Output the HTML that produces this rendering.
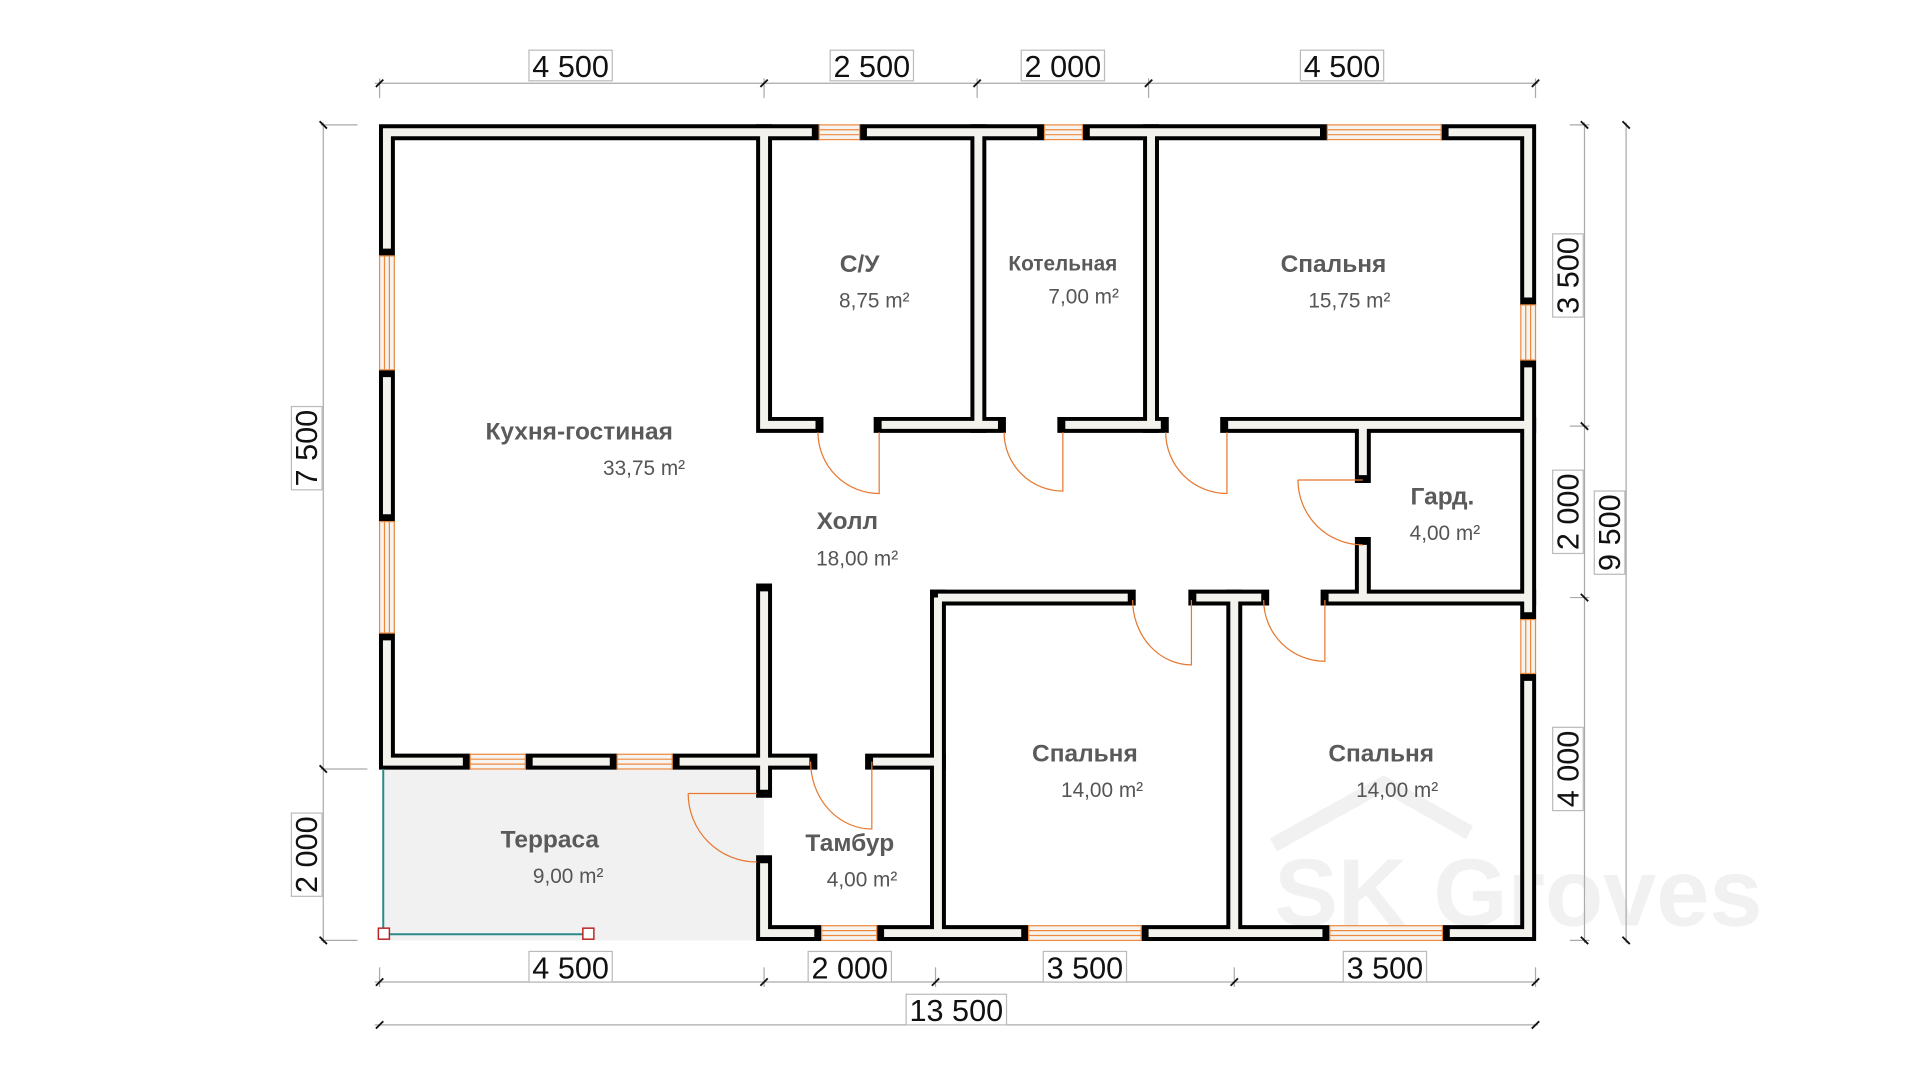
<!DOCTYPE html>
<html><head><meta charset="utf-8"><style>
html,body{margin:0;padding:0;background:#fff;}
svg{display:block}
.n{font-family:"Liberation Sans",sans-serif;font-weight:bold;fill:#5a5a5a;font-size:20px;text-anchor:middle}
.a{font-family:"Liberation Sans Narrow","Liberation Sans",sans-serif;fill:#555;font-size:17px;text-anchor:middle}
.d{font-family:"Liberation Sans Narrow","Liberation Sans",sans-serif;fill:#111;font-size:25px;text-anchor:middle}
</style></head><body>
<svg width="1920" height="1080" viewBox="0 0 1568 882" xmlns="http://www.w3.org/2000/svg">
<rect x="0" y="0" width="1568" height="882" fill="#fff"/>
<!-- terrace -->
<rect x="312" y="628" width="312" height="140" fill="#f1f1f1"/>
<!-- watermark -->
<text x="1240" y="756" font-family="Liberation Sans" font-weight="bold" font-size="78" fill="#f1f1f1" text-anchor="middle">SK Groves</text>
<path d="M1040,690 L1130,640 L1200,680" fill="none" stroke="#f1f1f1" stroke-width="12"/>

<!-- dimension lines -->
<g stroke="#aaa" stroke-width="1" fill="none">
<line x1="306" y1="68" x2="1256" y2="68"/>
<line x1="310" y1="64" x2="310" y2="80"/><line x1="624" y1="64" x2="624" y2="80"/><line x1="798" y1="64" x2="798" y2="80"/><line x1="938" y1="64" x2="938" y2="80"/><line x1="1254" y1="64" x2="1254" y2="80"/>
<line x1="306" y1="802" x2="1256" y2="802"/>
<line x1="310" y1="790" x2="310" y2="806"/><line x1="624" y1="790" x2="624" y2="806"/><line x1="764" y1="790" x2="764" y2="806"/><line x1="1008" y1="790" x2="1008" y2="806"/><line x1="1254" y1="790" x2="1254" y2="806"/>
<line x1="306" y1="837" x2="1256" y2="837"/>
<line x1="264" y1="100" x2="264" y2="770"/>
<line x1="262" y1="102" x2="292" y2="102"/><line x1="262" y1="628" x2="300" y2="628"/><line x1="262" y1="768" x2="292" y2="768"/>
<line x1="1294" y1="100" x2="1294" y2="770"/>
<line x1="1282" y1="102" x2="1298" y2="102"/><line x1="1282" y1="348" x2="1298" y2="348"/><line x1="1282" y1="488" x2="1298" y2="488"/><line x1="1282" y1="768" x2="1298" y2="768"/>
<line x1="1328" y1="100" x2="1328" y2="770"/>
</g>
<g stroke="#111" stroke-width="1.5">
<line x1="307" y1="71" x2="313" y2="65"/><line x1="621" y1="71" x2="627" y2="65"/><line x1="795" y1="71" x2="801" y2="65"/><line x1="935" y1="71" x2="941" y2="65"/><line x1="1251" y1="71" x2="1257" y2="65"/>
<line x1="307" y1="805" x2="313" y2="799"/><line x1="621" y1="805" x2="627" y2="799"/><line x1="761" y1="805" x2="767" y2="799"/><line x1="1005" y1="805" x2="1011" y2="799"/><line x1="1251" y1="805" x2="1257" y2="799"/>
<line x1="1251" y1="840" x2="1257" y2="834"/><line x1="307" y1="840" x2="313" y2="834"/>
<line x1="261" y1="99" x2="267" y2="105"/><line x1="261" y1="625" x2="267" y2="631"/><line x1="261" y1="765" x2="267" y2="771"/>
<line x1="1291" y1="99" x2="1297" y2="105"/><line x1="1291" y1="345" x2="1297" y2="351"/><line x1="1291" y1="485" x2="1297" y2="491"/><line x1="1291" y1="765" x2="1297" y2="771"/>
<line x1="1325" y1="99" x2="1331" y2="105"/><line x1="1325" y1="765" x2="1331" y2="771"/>
</g>
<g fill="#fff" stroke="#bbb" stroke-width="1">
<rect x="432" y="41" width="68" height="25"/><rect x="678" y="41" width="68" height="25"/><rect x="834" y="41" width="68" height="25"/><rect x="1062" y="41" width="68" height="25"/>
<rect x="432" y="777" width="68" height="25"/><rect x="660" y="777" width="68" height="25"/><rect x="852" y="777" width="68" height="25"/><rect x="1097" y="777" width="68" height="25"/>
<rect x="740" y="812" width="82" height="25"/>
<rect x="238" y="332" width="25" height="68"/><rect x="238" y="664" width="25" height="68"/>
<rect x="1268" y="191" width="25" height="68"/><rect x="1268" y="384" width="25" height="68"/><rect x="1268" y="594" width="25" height="68"/><rect x="1302" y="401" width="25" height="68"/>
</g>
<text class="d" x="466" y="63">4 500</text><text class="d" x="712" y="63">2 500</text><text class="d" x="868" y="63">2 000</text><text class="d" x="1096" y="63">4 500</text>
<text class="d" x="466" y="799">4 500</text><text class="d" x="694" y="799">2 000</text><text class="d" x="886" y="799">3 500</text><text class="d" x="1131" y="799">3 500</text>
<text class="d" x="781" y="834">13 500</text>
<text class="d" transform="translate(259,366) rotate(-90)">7 500</text>
<text class="d" transform="translate(259,698) rotate(-90)">2 000</text>
<text class="d" transform="translate(1289,225) rotate(-90)">3 500</text>
<text class="d" transform="translate(1289,418) rotate(-90)">2 000</text>
<text class="d" transform="translate(1289,628) rotate(-90)">4 000</text>
<text class="d" transform="translate(1323,435) rotate(-90)">9 500</text>

<!-- walls -->
<g id="w" fill="none" stroke-linejoin="miter">
<g stroke="#000" stroke-width="13" stroke-linecap="square">
<polyline points="316,203 316,108 663,108"/><line x1="708" y1="108" x2="847" y2="108"/><line x1="890" y1="108" x2="1078" y2="108"/>
<polyline points="1183,108 1248,108 1248,243"/><line x1="1248" y1="300" x2="1248" y2="500"/><polyline points="1248,556 1248,762 1184,762"/>
<line x1="1080" y1="762" x2="938" y2="762"/><line x1="834" y1="762" x2="722" y2="762"/><polyline points="665,762 624,762 624,705"/>
<line x1="624" y1="483" x2="624" y2="645"/><line x1="316" y1="308" x2="316" y2="420"/><polyline points="316,523 316,622 378,622"/>
<line x1="435" y1="622" x2="498" y2="622"/><line x1="555" y1="622" x2="661" y2="622"/><line x1="713" y1="622" x2="766" y2="622"/>
<line x1="766" y1="488" x2="766" y2="762"/><line x1="766" y1="488" x2="921" y2="488"/><line x1="977" y1="488" x2="1030" y2="488"/>
<line x1="1008" y1="488" x2="1008" y2="762"/><line x1="1085" y1="488" x2="1248" y2="488"/><line x1="1113" y1="445" x2="1113" y2="488"/>
<line x1="1113" y1="347" x2="1113" y2="388"/><line x1="1003" y1="347" x2="1248" y2="347"/><line x1="870" y1="347" x2="948" y2="347"/>
<line x1="940" y1="108" x2="940" y2="347"/><line x1="720" y1="347" x2="815" y2="347"/><line x1="799" y1="108" x2="799" y2="347"/>
<polyline points="624,108 624,347 666,347"/>
</g>
<g stroke="#f3f2ec" stroke-width="6.5" stroke-linecap="butt">
<polyline points="316,203 316,108 663,108"/><line x1="708" y1="108" x2="847" y2="108"/><line x1="890" y1="108" x2="1078" y2="108"/>
<polyline points="1183,108 1248,108 1248,243"/><line x1="1248" y1="300" x2="1248" y2="500"/><polyline points="1248,556 1248,762 1184,762"/>
<line x1="1080" y1="762" x2="938" y2="762"/><line x1="834" y1="762" x2="722" y2="762"/><polyline points="665,762 624,762 624,705"/>
<line x1="624" y1="483" x2="624" y2="645"/><line x1="316" y1="308" x2="316" y2="420"/><polyline points="316,523 316,622 378,622"/>
<line x1="435" y1="622" x2="498" y2="622"/><line x1="555" y1="622" x2="661" y2="622"/><line x1="713" y1="622" x2="766" y2="622"/>
<line x1="766" y1="488" x2="766" y2="762"/><line x1="766" y1="488" x2="921" y2="488"/><line x1="977" y1="488" x2="1030" y2="488"/>
<line x1="1008" y1="488" x2="1008" y2="762"/><line x1="1085" y1="488" x2="1248" y2="488"/><line x1="1113" y1="445" x2="1113" y2="488"/>
<line x1="1113" y1="347" x2="1113" y2="388"/><line x1="1003" y1="347" x2="1248" y2="347"/><line x1="870" y1="347" x2="948" y2="347"/>
<line x1="940" y1="108" x2="940" y2="347"/><line x1="720" y1="347" x2="815" y2="347"/><line x1="799" y1="108" x2="799" y2="347"/>
<polyline points="624,108 624,347 666,347"/>
</g>
</g>

<!-- windows -->
<g stroke="#ee8a40" stroke-width="1" fill="#f6f4f0">
<!-- horizontal -->
<g>
<rect x="669" y="102" width="33" height="12"/><line x1="669" y1="106" x2="702" y2="106"/><line x1="669" y1="110" x2="702" y2="110"/>
<rect x="853" y="102" width="31" height="12"/><line x1="853" y1="106" x2="884" y2="106"/><line x1="853" y1="110" x2="884" y2="110"/>
<rect x="1084" y="102" width="93" height="12"/><line x1="1084" y1="106" x2="1177" y2="106"/><line x1="1084" y1="110" x2="1177" y2="110"/>
<rect x="671" y="756" width="45" height="12"/><line x1="671" y1="760" x2="716" y2="760"/><line x1="671" y1="764" x2="716" y2="764"/>
<rect x="840" y="756" width="92" height="12"/><line x1="840" y1="760" x2="932" y2="760"/><line x1="840" y1="764" x2="932" y2="764"/>
<rect x="1086" y="756" width="92" height="12"/><line x1="1086" y1="760" x2="1178" y2="760"/><line x1="1086" y1="764" x2="1178" y2="764"/>
<rect x="384" y="616" width="45" height="12"/><line x1="384" y1="620" x2="429" y2="620"/><line x1="384" y1="624" x2="429" y2="624"/>
<rect x="504" y="616" width="45" height="12"/><line x1="504" y1="620" x2="549" y2="620"/><line x1="504" y1="624" x2="549" y2="624"/>
</g>
<g>
<rect x="310" y="209" width="12" height="93"/><line x1="314" y1="209" x2="314" y2="302"/><line x1="318" y1="209" x2="318" y2="302"/>
<rect x="310" y="426" width="12" height="91"/><line x1="314" y1="426" x2="314" y2="517"/><line x1="318" y1="426" x2="318" y2="517"/>
<rect x="1242" y="249" width="12" height="45"/><line x1="1246" y1="249" x2="1246" y2="294"/><line x1="1250" y1="249" x2="1250" y2="294"/>
<rect x="1242" y="506" width="12" height="44"/><line x1="1246" y1="506" x2="1246" y2="550"/><line x1="1250" y1="506" x2="1250" y2="550"/>
</g>
</g>

<!-- doors -->
<g stroke="#e87830" stroke-width="1" fill="none">
<path d="M668,353 A50,50 0 0 0 718,403 L718,353"/>
<path d="M820,353 A48,48 0 0 0 868,401 L868,353"/>
<path d="M952,353 A50,50 0 0 0 1002,403 L1002,353"/>
<path d="M1060,392 A53,53 0 0 0 1113,445 M1060,392 L1113,392"/>
<path d="M925,490 A48,53 0 0 0 973,543 L973,490"/>
<path d="M1032,490 A50,50 0 0 0 1082,540 L1082,490"/>
<path d="M662,622 A50,55 0 0 0 712,677 L712,622"/>
<path d="M562,648 A56,56 0 0 0 618,704 M562,648 L618,648"/>
</g>

<!-- terrace outline -->
<g stroke="#2a8a88" stroke-width="1.6" fill="none">
<line x1="313" y1="628" x2="313" y2="763"/><line x1="313" y1="763" x2="480" y2="763"/>
</g>
<g fill="#fff" stroke="#b22" stroke-width="1.2">
<rect x="309" y="758" width="9" height="9"/><rect x="476" y="758" width="9" height="9"/>
</g>

<!-- labels -->
<text class="n" x="473" y="359">Кухня-гостиная</text><text class="a" x="526" y="388">33,75 m²</text>
<text class="n" x="702" y="222">С/У</text><text class="a" x="714" y="251">8,75 m²</text>
<text class="n" x="868" y="221" style="font-size:17px">Котельная</text><text class="a" x="885" y="248">7,00 m²</text>
<text class="n" x="1089" y="222">Спальня</text><text class="a" x="1102" y="251">15,75 m²</text>
<text class="n" x="692" y="432">Холл</text><text class="a" x="700" y="462">18,00 m²</text>
<text class="n" x="1178" y="412">Гард.</text><text class="a" x="1180" y="441">4,00 m²</text>
<text class="n" x="886" y="622">Спальня</text><text class="a" x="900" y="651">14,00 m²</text>
<text class="n" x="1128" y="622">Спальня</text><text class="a" x="1141" y="651">14,00 m²</text>
<text class="n" x="449" y="692">Терраса</text><text class="a" x="464" y="721">9,00 m²</text>
<text class="n" x="694" y="695">Тамбур</text><text class="a" x="704" y="724">4,00 m²</text>
</svg>
</body></html>
